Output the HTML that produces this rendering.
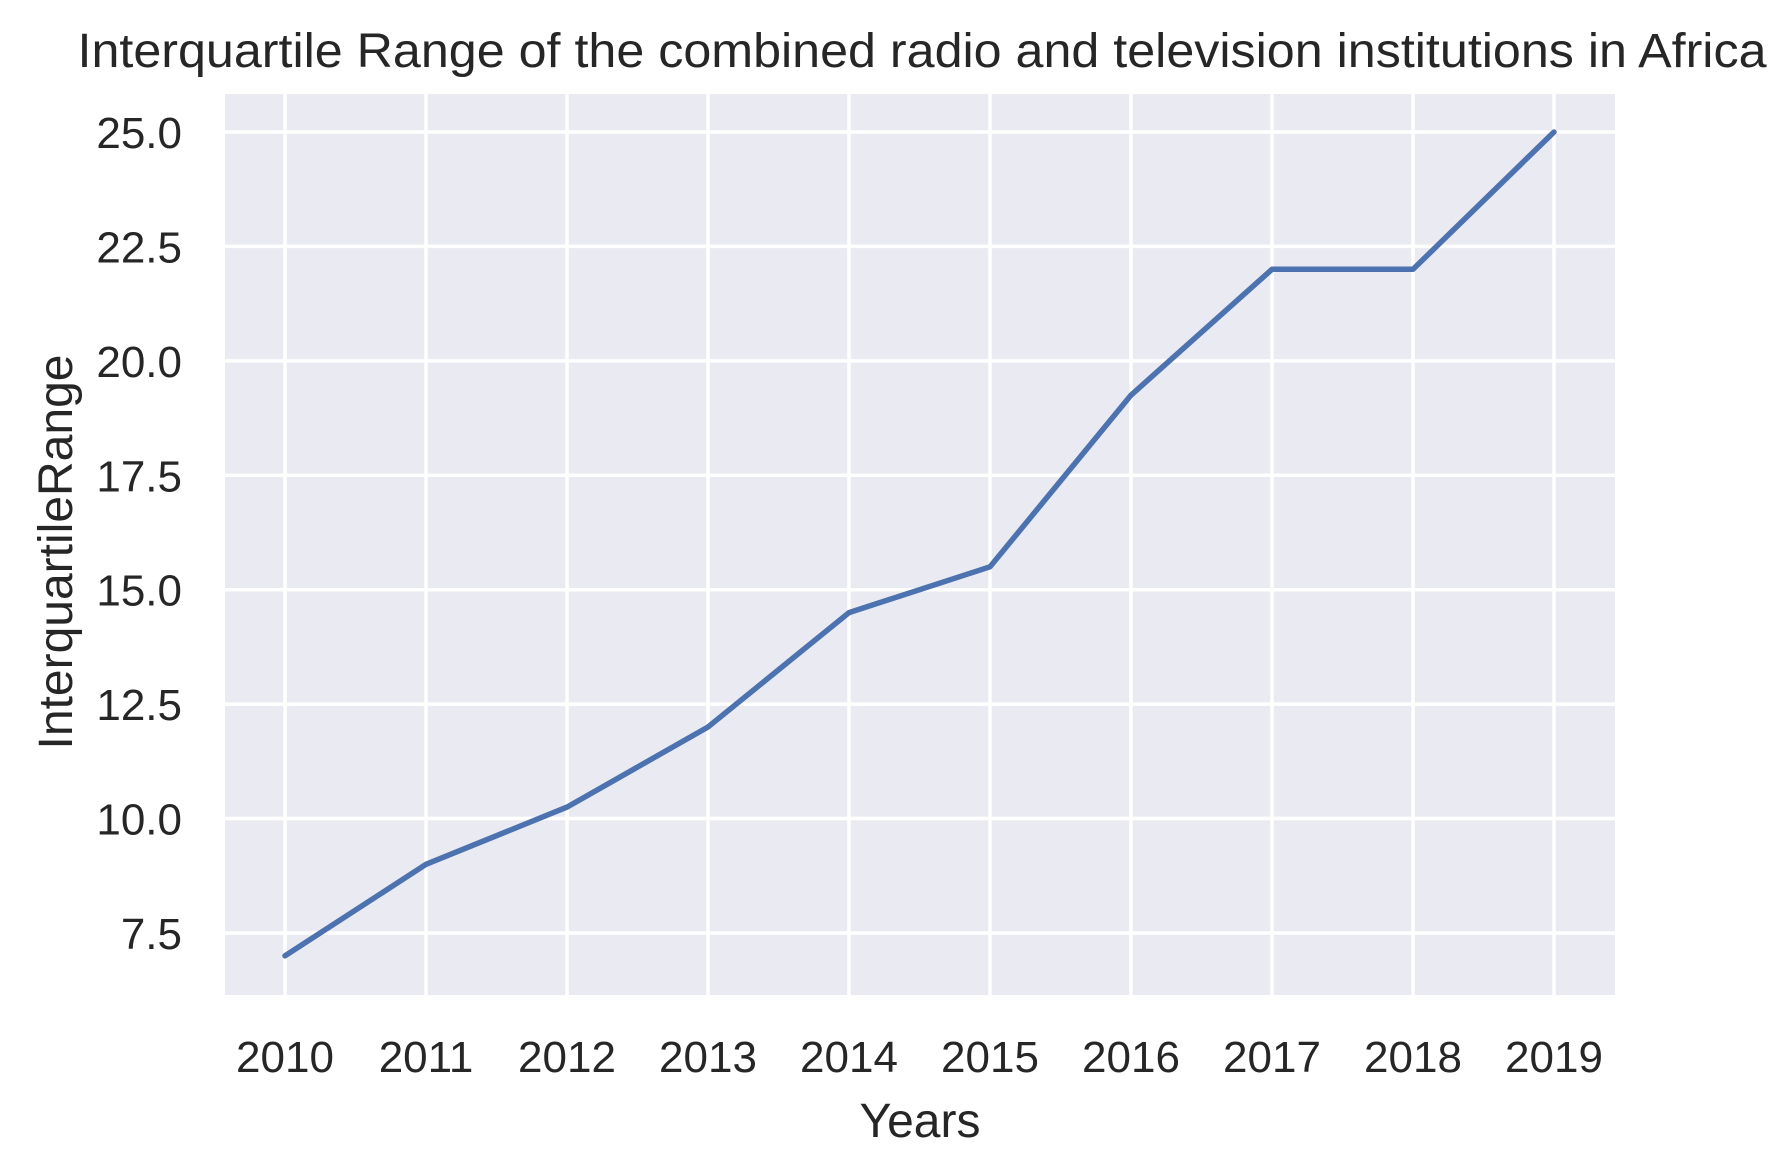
<!DOCTYPE html>
<html><head><meta charset="utf-8"><style>
html,body{margin:0;padding:0;background:#fff;}
svg{display:block;font-family:"Liberation Sans",sans-serif;}
</style></head><body>
<svg id="chart" width="1790" height="1170" xmlns="http://www.w3.org/2000/svg">
<rect x="225" y="94" width="1390" height="901" fill="#eaeaf2"/>
<g id="grid"></g>
<g id="xticks"></g>
<g id="yticks"></g>
<g id="series"></g>
<text x="922" y="67" font-size="48" fill="#262626" text-anchor="middle" textLength="1689" lengthAdjust="spacingAndGlyphs">Interquartile Range of the combined radio and television institutions in Africa</text>
<text x="920" y="1137" font-size="48" fill="#262626" text-anchor="middle">Years</text>
<text x="0" y="0" font-size="48" fill="#262626" text-anchor="middle" transform="translate(72,552) rotate(-90)">InterquartileRange</text>
</svg>
<script>
const years = [2010,2011,2012,2013,2014,2015,2016,2017,2018,2019];
const iqr = [7,9,10.25,12,14.5,15.5,19.25,22,22,25];
const yTickValues = [7.5,10,12.5,15,17.5,20,22.5,25];
const yTickLabels = ["7.5","10.0","12.5","15.0","17.5","20.0","22.5","25.0"];

const NS = "http://www.w3.org/2000/svg";
const xScale = i => 285 + i * 141;
const yScale = v => 132 + (25 - v) * 45.77;
function mk(tag, attrs, parent){const e=document.createElementNS(NS,tag);for(const k in attrs)e.setAttribute(k,attrs[k]);parent.appendChild(e);return e;}
const grid=document.getElementById('grid'), xt=document.getElementById('xticks'), yt=document.getElementById('yticks'), ser=document.getElementById('series');
years.forEach((y,i)=>{
  const g=mk('line',{x1:xScale(i),x2:xScale(i),y1:94,y2:995,stroke:'#fff','stroke-width':3.5},grid);
  
  
  const t=mk('text',{x:xScale(i),y:1072,'font-size':44,fill:'#262626','text-anchor':'middle'},xt);
  t.textContent=y;
  
  
});
yTickValues.forEach((v,i)=>{
  const g=mk('line',{x1:225,x2:1615,y1:yScale(v),y2:yScale(v),stroke:'#fff','stroke-width':3.5},grid);
  
  
  const t=mk('text',{x:182,y:yScale(v)+16,'font-size':44,fill:'#262626','text-anchor':'end'},yt);
  t.textContent=yTickLabels[i];
  
  
});
const pts=iqr.map((v,i)=>xScale(i)+','+yScale(v)).join(' ');
const pl=mk('polyline',{points:pts,fill:'none',stroke:'#4c72b0','stroke-width':5.5,'stroke-linecap':'round','stroke-linejoin':'round'},ser);


</script>
</body></html>
